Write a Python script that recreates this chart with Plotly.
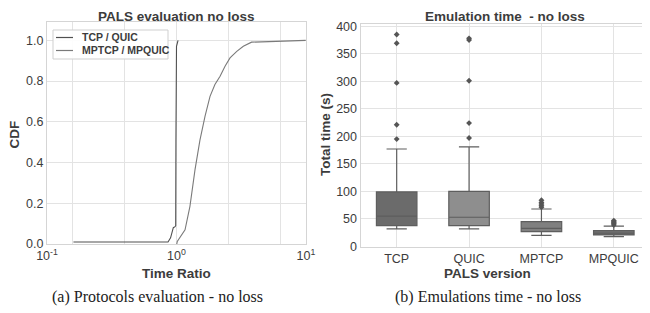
import plotly.graph_objects as go

W, H = 650, 313
OFF = 8  # page body margin offset


def px(x):
    return (x - OFF) / W


def py(y):
    return 1 - (y - OFF) / H


# ---------------- data ----------------
# CDF of time ratios
tcp_quic_ratio = [0.16, 0.86, 0.90, 0.93, 0.945, 0.975, 0.986, 0.99, 1.0, 1.028]
tcp_quic_cdf = [0.01, 0.01, 0.03, 0.06, 0.08, 0.085, 0.09, 0.50, 0.97, 1.0]

mp_ratio = [1.005, 1.014, 1.164, 1.27, 1.39, 1.517, 1.66, 1.815, 1.98, 2.17,
            2.37, 2.59, 2.92, 3.28, 3.8, 5.56, 9.95]
mp_cdf = [0.0, 0.013, 0.07, 0.185, 0.365, 0.51, 0.627, 0.725, 0.783, 0.824,
          0.873, 0.914, 0.946, 0.971, 0.991, 0.994, 1.0]

series_names = ["TCP / QUIC", "MPTCP / MPQUIC"]
series_colors = ["#505050", "#7a7a7a"]

# Emulation time boxplots
versions = ["TCP", "QUIC", "MPTCP", "MPQUIC"]
q1 = [38, 38, 27, 21]
median = [55, 53, 33, 24]
q3 = [99, 100, 45, 29]
lowfence = [32, 32, 20, 18]
highfence = [177, 181, 68, 37]
outliers = {
    "TCP": [195, 221, 297, 369, 385],
    "QUIC": [197, 224, 301, 375, 378],
    "MPTCP": [71, 74, 77, 80, 84],
    "MPQUIC": [39, 41, 43, 45, 47],
}
box_colors = ["#6b6b6b", "#8e8e8e", "#808080", "#6c6c6c"]

x_tickvals = [0.1, 10 ** -0.8, 10 ** -0.4, 1, 10 ** 0.4, 10 ** 0.8, 10]
x_ticktext = ["10<sup>-1</sup>", "", "", "10<sup>0</sup>", "", "", "10<sup>1</sup>"]
y_tickvals = [0.0, 0.2, 0.4, 0.6, 0.8, 1.0]

# ---------------- figure ----------------
FONT = "Liberation Sans, Arial, sans-serif"
TXT = "#3c3c3c"
GRID = "#e3e3e3"
FRAME = "#d5d5d5"

fig = go.Figure()

for xs, ys, nm, col in [(tcp_quic_ratio, tcp_quic_cdf, series_names[0], series_colors[0]),
                        (mp_ratio, mp_cdf, series_names[1], series_colors[1])]:
    fig.add_trace(go.Scatter(x=xs, y=ys, mode="lines", line=dict(color=col, width=1.1),
                             name=nm, showlegend=False, xaxis="x", yaxis="y"))

for v, a, m, b, lo, hi, c in zip(versions, q1, median, q3, lowfence, highfence, box_colors):
    fig.add_trace(go.Box(x=[v], q1=[a], median=[m], q3=[b], lowerfence=[lo], upperfence=[hi],
                         fillcolor=c, line=dict(color="#5e5e5e", width=1.2),
                         whiskerwidth=0.5, boxpoints=False, showlegend=False,
                         xaxis="x2", yaxis="y2"))
    fig.add_trace(go.Scatter(x=[v] * len(outliers[v]), y=outliers[v], mode="markers",
                             marker=dict(symbol="diamond", size=4.5, color="#555555"),
                             showlegend=False, xaxis="x2", yaxis="y2"))

lx0, lx1 = px(47), px(306)
ly0, ly1 = py(244), py(22)
rx0, rx1 = px(360.5), px(650)
ry0, ry1 = py(247), py(24)

axis_common = dict(showgrid=True, gridcolor=GRID, gridwidth=1, showline=True, mirror=True,
                   linecolor=FRAME, linewidth=1, zeroline=False, ticks="", automargin=False,
                   tickfont=dict(family=FONT, size=12.5, color=TXT))

fig.update_layout(
    width=W, height=H, margin=dict(l=0, r=0, t=0, b=0, autoexpand=False),
    paper_bgcolor="white", plot_bgcolor="white",
    font=dict(family=FONT, color=TXT),
    boxmode="overlay", boxgap=0.2, showlegend=False,
    xaxis=dict(domain=[lx0, lx1], type="log", range=[-1, 1], tickvals=x_tickvals,
               ticktext=x_ticktext, anchor="y", **axis_common),
    yaxis=dict(domain=[ly0, ly1], range=[0, 1.09], tickvals=y_tickvals,
               tickformat=".1f", anchor="x", **axis_common),
    xaxis2=dict(domain=[rx0, rx1], type="category", range=[-0.5, 3.5],
                categoryorder="array", categoryarray=versions, anchor="y2", **axis_common),
    yaxis2=dict(domain=[ry0, ry1], range=[-1, 404], tickvals=list(range(0, 401, 50)),
                anchor="x2", **axis_common),
)

shapes = []
annotations = []

# legend box (drawn in paper coords)
shapes.append(dict(type="rect", xref="paper", yref="paper",
                   x0=px(53), x1=px(168), y0=py(59), y1=py(30),
                   line=dict(color="#cfcfcf", width=1), fillcolor="rgba(255,255,255,0.9)"))
for i, (nm, col) in enumerate(zip(series_names, series_colors)):
    yy = py(37.5 + 13 * i)
    shapes.append(dict(type="line", xref="paper", yref="paper",
                       x0=px(56), x1=px(73), y0=yy, y1=yy, line=dict(color=col, width=1.2)))
    annotations.append(dict(text="<b>" + nm + "</b>", x=px(80), y=yy, xref="paper", yref="paper",
                            xanchor="left", yanchor="middle", showarrow=False,
                            font=dict(family=FONT, size=10.5, color=TXT)))

# subplot titles, anchored at the very top of the figure area
for txt, xc in [("<b>PALS evaluation no loss</b>", (lx0 + lx1) / 2),
                ("<b>Emulation time  - no loss</b>", px(505))]:
    annotations.append(dict(text=txt, x=xc, y=1.0, xref="paper", yref="paper",
                            xanchor="center", yanchor="top", showarrow=False, borderpad=0,
                            font=dict(family=FONT, size=13.5, color=TXT)))

for txt, xc in [("<b>Time Ratio</b>", (lx0 + lx1) / 2), ("<b>PALS version</b>", px(487))]:
    annotations.append(dict(text=txt, x=xc, y=py(273), xref="paper", yref="paper",
                            xanchor="center", yanchor="middle", showarrow=False, borderpad=0,
                            font=dict(family=FONT, size=13.5, color=TXT)))
annotations.append(dict(text="<b>CDF</b>", x=px(13.5), y=py(135), xref="paper", yref="paper",
                        textangle=-90, showarrow=False, xanchor="center", yanchor="middle",
                        borderpad=0, font=dict(family=FONT, size=13.5, color=TXT)))
annotations.append(dict(text="<b>Total time (s)</b>", x=px(325), y=py(135), xref="paper",
                        yref="paper", textangle=-90, showarrow=False, xanchor="center",
                        yanchor="middle", font=dict(family=FONT, size=13.5, color=TXT)))
SERIF = "Liberation Serif, Times New Roman, serif"
annotations.append(dict(text="(a) Protocols evaluation - no loss", x=px(157), y=py(297),
                        xref="paper", yref="paper", showarrow=False, xanchor="center",
                        yanchor="middle", font=dict(family=SERIF, size=16, color="#222222")))
annotations.append(dict(text="(b) Emulations time - no loss", x=px(488), y=py(297),
                        xref="paper", yref="paper", showarrow=False, xanchor="center",
                        yanchor="middle", font=dict(family=SERIF, size=16, color="#222222")))
fig.update_layout(annotations=annotations, shapes=shapes)

fig.write_html("out.html")
